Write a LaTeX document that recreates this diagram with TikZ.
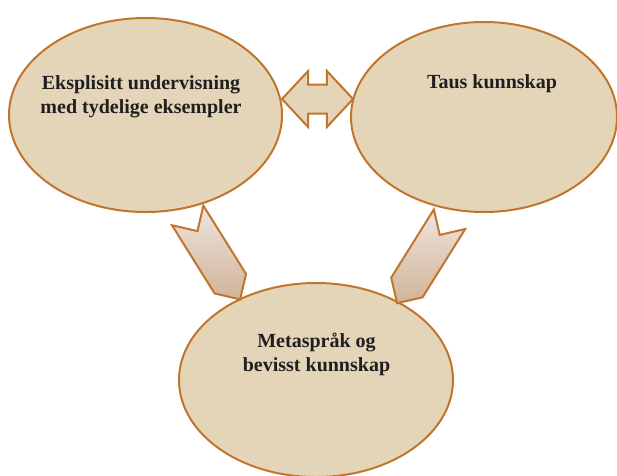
\documentclass[tikz,border=0pt]{standalone}
\usepackage{fontspec}
\setmainfont{Liberation Serif}
\usetikzlibrary{shapes.geometric,shapes.arrows,shapes.symbols,positioning}

\definecolor{bubblefill}{RGB}{229,213,184}
\definecolor{bubbleline}{RGB}{193,117,44}
\definecolor{chevlight}{RGB}{238,229,222}
\definecolor{chevdark}{RGB}{208,180,152}

\tikzset{
  bubble/.style={ellipse, draw=bubbleline, fill=bubblefill, line width=2pt, inner sep=0pt},
  bubbletext/.style={align=center, font=\fontsize{20}{24}\selectfont\bfseries, text=black!88},
  chevron/.style={signal, signal from=west, signal to=east, signal pointer angle=90,
    draw=bubbleline, line width=2pt, top color=chevlight, bottom color=chevdark,
    minimum width=99pt, minimum height=37pt, inner sep=0pt},
  swaparrow/.style={double arrow, draw=bubbleline, fill=bubblefill, line width=2pt,
    double arrow tip angle=94, double arrow head extend=13.5pt,
    minimum height=71pt, inner sep=13.5pt}
}

\begin{document}
\begin{tikzpicture}[x=1pt,y=-1pt]
  \useasboundingbox (0,0) rectangle (617,475);

  % the three circles
  \node[bubble, minimum width=273pt, minimum height=194pt] (explicit) at (145.5,115) {};
  \node[bubble, minimum width=266pt, minimum height=190pt] (tacit) at (484,117) {};
  \node[bubble, minimum width=274pt, minimum height=194pt] (meta) at (316,380) {};

  \node[bubbletext] (explicittext) at (141,96.5) {Eksplisitt undervisning\\med tydelige eksempler};
  \node[bubbletext] (tacittext) at (492,83.6) {Taus kunnskap};
  \node[bubbletext] (metatext) at (316.5,354.4) {Metaspråk og\\bevisst kunnskap};

  % arrows between them
  \node[swaparrow] (swap) at (317.5,99) {};
  \node[chevron, rotate=-58] (leftchev) at (213.9,257.4) {};
  \node[chevron, rotate=-122] (rightchev) at (423.3,261.2) {};
\end{tikzpicture}
\end{document}
